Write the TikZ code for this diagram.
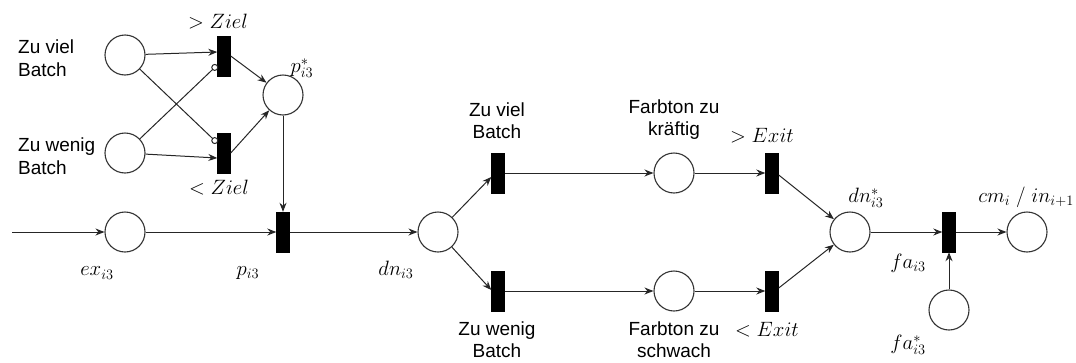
\documentclass[tikz,border=0pt]{standalone}
\usepackage{fontspec}
\usetikzlibrary{arrows.meta}
\newfontfamily\arialf{Liberation Sans}
\begin{document}
\begin{tikzpicture}[x=1pt,y=-1pt,
  place/.style={circle,draw=black!80,line width=1.1pt,minimum size=40pt,inner sep=0pt},
  trans/.style={rectangle,fill=black,draw=black,minimum width=13pt,minimum height=40pt,inner sep=0pt},
  arc/.style={draw=black!85,line width=1pt,-{Stealth[length=9pt,width=7pt]}},
  inhib/.style={draw=black!85,line width=1pt,-{Circle[open,length=7pt,width=7pt,line width=1pt]}},
  lbl/.style={font=\arialf\fontsize{19}{22}\selectfont,align=center,inner sep=0pt},
  lbll/.style={font=\arialf\fontsize{19}{23}\selectfont,align=left,inner sep=0pt},
  mlbl/.style={font=\fontsize{19.5}{22}\selectfont,inner sep=0pt}]
\useasboundingbox (0,0) rectangle (1076,362);
% places
\node[place] (zv) at (125,55) {};
\node[place] (zw) at (125,153) {};
\node[place] (ps) at (283,95) {};
\node[place] (ex) at (125,232) {};
\node[place] (dn) at (438,232) {};
\node[place] (fu) at (674,173) {};
\node[place] (fl) at (674,291) {};
\node[place] (dns) at (850,232) {};
\node[place] (cm) at (1027,232) {};
\node[place] (fas) at (949,310) {};
% transitions
\node[trans] (t1) at (224,56) {};
\node[trans] (t2) at (224,153) {};
\node[trans] (tp) at (283,232) {};
\node[trans] (tu) at (498,173) {};
\node[trans] (tl) at (498,291) {};
\node[trans] (eu) at (772,173) {};
\node[trans] (el) at (772,291) {};
\node[trans] (tf) at (949,232) {};
\coordinate (start) at (12,232);
% arcs
\draw[arc] (zv) -- ([yshift=4pt]t1.west);
\draw[arc] (zw) -- ([yshift=-5pt]t2.west);
\draw[inhib] (zw) -- ([yshift=-9pt]t1.west);
\draw[inhib] (zv) -- ([yshift=10pt]t2.west);
\draw[arc] (t1.east) -- (ps);
\draw[arc] (t2.east) -- (ps);
\draw[arc] (ps) -- (tp);
\draw[arc] (start) -- (ex);
\draw[arc] (ex) -- (tp);
\draw[arc] (tp) -- (dn);
\draw[arc] (dn) -- ([yshift=-4pt]tu.west);
\draw[arc] (dn) -- ([yshift=1pt]tl.west);
\draw[arc] (tu) -- (fu);
\draw[arc] (tl) -- (fl);
\draw[arc] (fu) -- (eu);
\draw[arc] (fl) -- (el);
\draw[arc] ([yshift=-2pt]eu.east) -- (dns);
\draw[arc] ([yshift=3pt]el.east) -- (dns);
\draw[arc] (dns) -- (tf);
\draw[arc] (tf) -- (cm);
\draw[arc] (fas) -- (tf);
% labels
\node[lbll,anchor=west] (lzv) at (18,58) {Zu viel\\Batch};
\node[lbll,anchor=west] (lzw) at (18,156) {Zu wenig\\Batch};
\node[mlbl] (lgz) at (218,22) {$>Ziel$};
\node[mlbl] (llz) at (219,188) {$<Ziel$};
\node[mlbl] (lps) at (302,68) {$p^*_{i3}$};
\node[mlbl] (lex) at (97,273) {$ex_{i3}$};
\node[mlbl] (lp) at (248,273) {$p_{i3}$};
\node[mlbl] (ldn) at (396,270) {$dn_{i3}$};
\node[lbl] (lzv2) at (497,121) {Zu viel\\Batch};
\node[lbl] (lfk) at (674,120) {Farbton zu\\kräftig};
\node[mlbl] (lge) at (762,136) {$>Exit$};
\node[lbl] (lzw2) at (497,340) {Zu wenig\\Batch};
\node[lbl] (lfs) at (674,340) {Farbton zu\\schwach};
\node[mlbl] (lle) at (767,330) {$<Exit$};
\node[mlbl] (ldns) at (866,198) {$dn^*_{i3}$};
\node[mlbl,anchor=east] (lcm) at (1074,197) {$cm_i\ /\ in_{i+1}$};
\node[mlbl] (lfa) at (908,263) {$fa_{i3}$};
\node[mlbl] (lfas) at (908,345) {$fa^*_{i3}$};
\end{tikzpicture}
\end{document}
